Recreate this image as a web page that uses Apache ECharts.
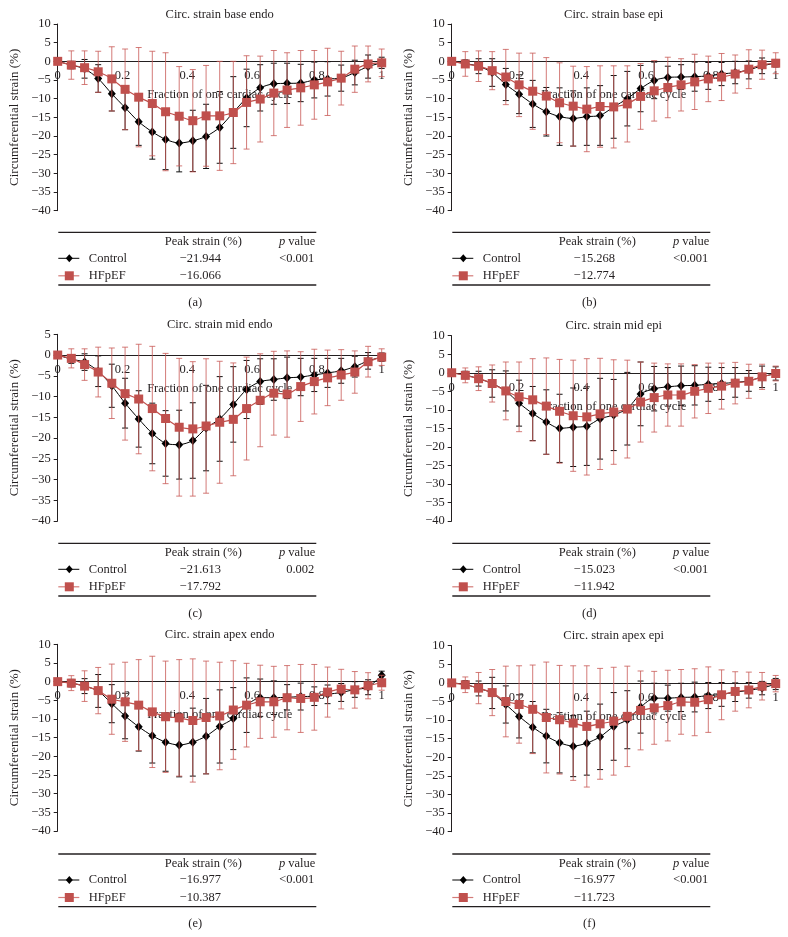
<!DOCTYPE html>
<html><head><meta charset="utf-8">
<script src="https://cdn.jsdelivr.net/npm/echarts@6/dist/echarts.min.js"></script>
<style>html,body{margin:0;padding:0;background:#fff}#c{width:788px;height:937px}</style>
</head><body><div id="c"></div>
<script>
// ---------------- DATA ----------------
const fractions = [0, 0.042, 0.083, 0.125, 0.167, 0.208, 0.25, 0.292, 0.333, 0.375, 0.417, 0.458, 0.5,
  0.542, 0.583, 0.625, 0.667, 0.708, 0.75, 0.792, 0.833, 0.875, 0.917, 0.958, 1];

const panelTitles = ['Circ. strain base endo', 'Circ. strain base epi', 'Circ. strain mid endo',
  'Circ. strain mid epi', 'Circ. strain apex endo', 'Circ. strain apex epi'];
const captions = ['(a)', '(b)', '(c)', '(d)', '(e)', '(f)'];
const yMaxTicks = [10, 10, 5, 10, 10, 10];
const yMinTick = -40;
const xTickStep = 0.2;
const yTickStep = 5;

// (a) base endo
const aControl   = [0, -1.0, -2.0, -4.6, -8.7, -12.4, -16.2, -18.9, -20.9, -21.9, -21.3, -20.1, -17.7, -13.7, -9.8, -7.1, -6.0, -5.9, -5.8, -5.0, -4.7, -4.5, -3.0, -1.4, -0.4];
const aControlSD = [0, 1.0, 2.5, 3.7, 4.6, 5.9, 6.3, 7.3, 8.1, 7.7, 8.2, 8.6, 9.6, 9.6, 7.7, 6.2, 5.5, 5.4, 5.0, 4.8, 4.6, 3.5, 3.3, 3.1, 1.5];
const aHF        = [0, -1.0, -1.7, -2.8, -4.7, -7.5, -9.6, -11.3, -13.5, -14.7, -15.9, -14.6, -14.6, -13.7, -11.0, -10.1, -8.5, -7.7, -7.1, -6.3, -5.5, -4.5, -2.1, -0.7, -0.4];
const aHFSD      = [0, 3.8, 4.5, 5.5, 8.6, 10.8, 13.3, 14.0, 15.8, 13.3, 13.7, 13.5, 14.6, 13.7, 12.5, 11.5, 11.4, 10.0, 10.0, 9.2, 9.0, 7.2, 6.2, 4.8, 3.7];
// (b) base epi
const bControl   = [0, -0.6, -1.3, -3.0, -6.2, -8.8, -11.4, -13.5, -14.8, -15.3, -14.8, -14.5, -12.2, -10.0, -7.3, -5.1, -4.3, -4.2, -4.1, -3.9, -3.4, -3.0, -2.3, -1.2, -0.5];
const bControlSD = [0, 1.0, 2.0, 3.7, 4.3, 5.2, 6.3, 6.5, 7.7, 7.4, 7.7, 8.0, 8.4, 7.3, 6.2, 4.9, 3.0, 3.3, 3.9, 3.6, 3.1, 3.0, 2.4, 2.1, 1.0];
const bHF        = [0, -0.7, -1.3, -2.5, -4.2, -6.3, -8.0, -9.3, -11.1, -12.0, -12.8, -12.1, -12.2, -11.4, -9.4, -7.9, -7.0, -6.3, -5.5, -4.7, -4.2, -3.4, -2.1, -0.9, -0.5];
const bHFSD      = [0, 3.3, 4.1, 5.1, 7.4, 8.5, 10.2, 10.3, 10.7, 10.7, 11.4, 10.9, 11.0, 10.2, 8.8, 8.1, 8.1, 7.0, 7.4, 6.1, 6.3, 5.1, 5.2, 3.9, 2.8];
// (c) mid endo
const cControl   = [0, -1.0, -1.7, -3.9, -7.4, -11.6, -15.4, -18.9, -21.3, -21.6, -20.6, -17.6, -15.4, -11.9, -8.3, -6.4, -5.9, -5.5, -5.3, -4.8, -4.3, -3.8, -2.8, -1.4, -0.5];
const cControlSD = [0, 1.0, 2.0, 3.7, 5.2, 6.0, 6.8, 7.3, 7.9, 8.3, 9.1, 10.3, 10.2, 9.1, 7.0, 5.5, 5.0, 5.0, 4.5, 4.0, 3.5, 3.0, 2.5, 2.0, 1.0];
const cHF        = [0, -0.8, -2.3, -4.1, -6.8, -9.3, -10.6, -12.9, -15.3, -17.4, -17.8, -17.1, -16.2, -15.5, -12.9, -10.9, -9.2, -9.4, -7.6, -6.4, -5.5, -4.8, -4.1, -1.6, -0.5];
const cHFSD      = [0, 2.3, 3.8, 6.0, 8.5, 11.2, 13.2, 15.0, 15.7, 16.6, 16.2, 16.2, 14.7, 13.6, 12.4, 11.2, 10.1, 10.4, 8.4, 7.8, 6.7, 6.1, 5.1, 3.7, 2.0];
// (d) mid epi
const dControl   = [0, -0.6, -1.6, -2.9, -4.9, -8.2, -11.0, -13.3, -15.0, -14.7, -14.4, -12.4, -11.4, -9.7, -5.7, -4.3, -3.8, -3.5, -3.4, -3.1, -2.9, -2.6, -2.2, -1.1, -0.2];
const dControlSD = [0, 1.0, 2.0, 3.7, 5.4, 6.2, 7.3, 8.7, 9.2, 10.6, 10.6, 10.9, 9.6, 9.8, 8.6, 6.0, 5.2, 5.3, 5.3, 4.6, 4.3, 4.0, 2.8, 2.9, 1.8];
const dHF        = [0, -0.7, -1.6, -2.9, -4.9, -6.5, -7.3, -9.0, -10.4, -11.6, -11.9, -11.1, -10.6, -9.8, -7.9, -6.7, -6.0, -6.0, -5.0, -4.2, -3.6, -2.8, -2.3, -1.1, -0.2];
const dHFSD      = [0, 2.0, 3.2, 5.0, 7.8, 9.4, 11.1, 13.0, 14.0, 15.0, 15.7, 15.0, 14.1, 13.2, 10.8, 9.3, 8.4, 8.4, 7.2, 6.8, 6.2, 5.6, 4.6, 3.4, 2.0];
// (e) apex endo
const eControl   = [0, -0.4, -1.2, -2.5, -5.9, -9.2, -12.1, -14.5, -16.2, -17.0, -16.2, -14.6, -12.0, -9.9, -6.3, -4.3, -4.3, -4.2, -4.0, -3.9, -3.4, -2.9, -2.1, -1.5, 1.7];
const eControlSD = [0, 1.0, 2.0, 4.4, 5.1, 6.1, 6.5, 7.3, 7.8, 8.5, 9.1, 10.1, 9.8, 8.3, 7.3, 5.0, 4.5, 3.4, 3.6, 2.5, 2.5, 2.4, 2.1, 2.0, 1.1];
const eHF        = [0, -0.4, -1.2, -2.4, -4.7, -5.4, -6.3, -8.1, -9.4, -9.7, -10.4, -9.6, -9.2, -7.6, -6.3, -5.4, -5.4, -4.3, -4.5, -4.2, -2.8, -2.0, -2.2, -1.1, -0.3];
const eHFSD      = [0, 2.0, 4.1, 6.2, 9.4, 10.6, 12.2, 14.9, 14.9, 15.6, 16.5, 15.1, 14.4, 13.2, 11.2, 9.8, 9.5, 8.6, 9.1, 8.8, 6.7, 5.3, 4.9, 3.5, 2.0];
// (f) apex epi
const fControl   = [0, -0.4, -1.5, -2.7, -5.8, -9.0, -11.9, -14.3, -16.1, -17.0, -16.2, -14.5, -11.7, -9.9, -6.5, -4.1, -4.1, -3.9, -3.8, -3.4, -3.1, -2.5, -2.0, -1.4, -0.3];
const fControlSD = [0, 1.0, 2.0, 4.2, 5.0, 5.8, 6.9, 7.2, 8.1, 8.2, 8.6, 8.8, 9.1, 7.8, 7.0, 4.0, 3.5, 3.8, 4.0, 3.5, 3.2, 2.5, 2.1, 1.8, 1.5];
const fHF        = [0, -0.5, -1.4, -2.6, -5.0, -5.8, -7.1, -9.3, -9.9, -10.8, -11.7, -11.0, -10.3, -9.0, -7.4, -6.7, -6.1, -5.1, -5.2, -4.5, -3.2, -2.3, -1.9, -0.9, -0.2];
const fHFSD      = [0, 2.1, 4.2, 6.2, 9.5, 10.4, 11.9, 14.9, 14.6, 15.4, 16.3, 14.9, 14.5, 13.5, 10.6, 9.8, 9.5, 8.7, 9.0, 8.8, 6.7, 5.3, 4.8, 3.7, 2.2];

// table values
const peakControl = [-21.944, -15.268, -21.613, -15.023, -16.977, -16.977];
const peakHF      = [-16.066, -12.774, -17.792, -11.942, -10.387, -11.723];
const pValues     = ['<0.001', '<0.001', '0.002', '<0.001', '<0.001', '<0.001'];

const controlSeries = [aControl, bControl, cControl, dControl, eControl, fControl];
const controlSDs    = [aControlSD, bControlSD, cControlSD, dControlSD, eControlSD, fControlSD];
const hfSeries      = [aHF, bHF, cHF, dHF, eHF, fHF];
const hfSDs         = [aHFSD, bHFSD, cHFSD, dHFSD, eHFSD, fHFSD];

// ---------------- LAYOUT / STYLE ----------------
const FONT = '"Liberation Serif", "DejaVu Serif", serif';
const INK = '#231f20';
const RED = '#c0504d';
const RED_BAR = 'rgba(200,90,86,0.8)';
const FS = 12.5;
const grids = [
  { left: 57.7,  top: 24,    width: 324, height: 186.7 },
  { left: 451.7, top: 24,    width: 324, height: 186.7 },
  { left: 57.7,  top: 334.3, width: 324, height: 186.7 },
  { left: 451.7, top: 335.7, width: 324, height: 185.3 },
  { left: 57.7,  top: 644.3, width: 324, height: 186.7 },
  { left: 451.7, top: 645.7, width: 324, height: 186 }
];
const tableTops = [232.3, 232.3, 543.3, 543.3, 854, 854];

const minus = v => (v < 0 ? '\u2212' + Math.abs(v) : String(v));

function errorBarRenderer(color) {
  return function (params, api) {
    const x = api.value(0), y = api.value(1), sd = api.value(2);
    if (!sd) return null;
    const hi = api.coord([x, y + sd]);
    const lo = api.coord([x, y - sd]);
    const w = 3;
    const st = { stroke: color, lineWidth: 1 };
    return {
      type: 'group',
      children: [
        { type: 'line', shape: { x1: hi[0], y1: hi[1], x2: lo[0], y2: lo[1] }, style: st },
        { type: 'line', shape: { x1: hi[0] - w, y1: hi[1], x2: hi[0] + w, y2: hi[1] }, style: st },
        { type: 'line', shape: { x1: lo[0] - w, y1: lo[1], x2: lo[0] + w, y2: lo[1] }, style: st }
      ]
    };
  };
}

const gridOpts = [], xAxes = [], yAxes = [], series = [], graphics = [];

function txt(text, x, y, align, extra) {
  return {
    type: 'text', silent: true, z: 100,
    style: Object.assign({
      text, x, y, fill: INK, font: FS + 'px ' + FONT,
      align: align, textAlign: align, verticalAlign: 'middle', textVerticalAlign: 'middle'
    }, extra || {})
  };
}
function hline(x1, x2, y, color, w) {
  return { type: 'line', silent: true, z: 100, shape: { x1, y1: y, x2, y2: y }, style: { stroke: color, lineWidth: w } };
}

for (let i = 0; i < 6; i++) {
  const g = grids[i];
  gridOpts.push(Object.assign({ outerBoundsMode: 'none', containLabel: false }, g));
  // x axis sits on the zero line: shift it up from the grid bottom by the zero position
  const zeroFromBottom = g.height * (0 - yMinTick) / (yMaxTicks[i] - yMinTick);
  xAxes.push({
    gridIndex: i, type: 'value', min: 0, max: 1, interval: xTickStep,
    position: 'bottom', offset: -zeroFromBottom,
    axisLine: { onZero: false, lineStyle: { color: INK, width: 1 } },
    axisTick: { show: false },
    splitLine: { show: false },
    axisLabel: { margin: 8, fontFamily: FONT, fontSize: FS, color: INK,
      formatter: v => String(+v.toFixed(1)) },
    name: 'Fraction of one cardiac cycle', nameLocation: 'middle', nameGap: 27,
    nameTextStyle: { fontFamily: FONT, fontSize: FS, color: INK }
  });
  yAxes.push({
    gridIndex: i, type: 'value', min: yMinTick, max: yMaxTicks[i], interval: yTickStep,
    axisLine: { show: true, onZero: false, lineStyle: { color: INK, width: 1 } },
    axisTick: { show: true, length: 4, lineStyle: { color: INK } },
    splitLine: { show: false },
    axisLabel: { margin: 7, fontFamily: FONT, fontSize: FS, color: INK, formatter: minus },
    name: 'Circumferential strain (%)', nameLocation: 'middle', nameGap: 37, nameRotate: 90,
    nameTextStyle: { fontFamily: FONT, fontSize: 13, color: INK }
  });

  const ctrl = controlSeries[i], ctrlSD = controlSDs[i], hf = hfSeries[i], hfSD = hfSDs[i];
  series.push({
    type: 'custom', xAxisIndex: i, yAxisIndex: i, z: 2, silent: true,
    renderItem: errorBarRenderer('#111'),
    data: fractions.map((x, k) => [x, ctrl[k], ctrlSD[k]])
  });
  series.push({
    type: 'line', xAxisIndex: i, yAxisIndex: i, z: 3, silent: true,
    data: fractions.map((x, k) => [x, ctrl[k]]),
    smooth: 0.25, symbol: 'diamond', symbolSize: [8, 9],
    lineStyle: { color: '#000', width: 1 }, itemStyle: { color: '#000' }
  });
  series.push({
    type: 'custom', xAxisIndex: i, yAxisIndex: i, z: 4, silent: true,
    renderItem: errorBarRenderer(RED_BAR),
    data: fractions.map((x, k) => [x, hf[k], hfSD[k]])
  });
  series.push({
    type: 'line', xAxisIndex: i, yAxisIndex: i, z: 5, silent: true,
    data: fractions.map((x, k) => [x, hf[k]]),
    smooth: 0.15, symbol: 'rect', symbolSize: 9,
    lineStyle: { color: RED, width: 1.2 }, itemStyle: { color: RED }
  });

  // title
  graphics.push(txt(panelTitles[i], g.left + g.width / 2, g.top - 9.5, 'center'));

  // table
  const L = g.left + 0.6, T = tableTops[i];
  graphics.push(hline(L, L + 258, T, INK, 1.3));
  graphics.push(txt('Peak strain (%)', L + 145, T + 9.6, 'center'));
  graphics.push(txt('p', L + 227, T + 9.6, 'right', { font: 'italic ' + FS + 'px ' + FONT }));
  graphics.push(txt('value', L + 230, T + 9.6, 'left'));
  const r1 = T + 26, r2 = T + 43.5;
  graphics.push({ type: 'line', silent: true, z: 100, shape: { x1: L, y1: r1, x2: L + 21, y2: r1 }, style: { stroke: '#000', lineWidth: 1 } });
  graphics.push({ type: 'polygon', silent: true, z: 101, shape: { points: [[L + 11, r1 - 4], [L + 14.5, r1], [L + 11, r1 + 4], [L + 7.5, r1]] }, style: { fill: '#000' } });
  graphics.push(txt('Control', L + 30.5, r1, 'left'));
  graphics.push(txt(minus(peakControl[i].toFixed(3)), L + 142, r1, 'center'));
  graphics.push(txt(pValues[i], L + 256, r1, 'right'));
  graphics.push({ type: 'line', silent: true, z: 100, shape: { x1: L, y1: r2, x2: L + 21, y2: r2 }, style: { stroke: RED_BAR, lineWidth: 1.2 } });
  graphics.push({ type: 'rect', silent: true, z: 101, shape: { x: L + 6.5, y: r2 - 4.5, width: 9, height: 9 }, style: { fill: RED } });
  graphics.push(txt('HFpEF', L + 30.5, r2, 'left'));
  graphics.push(txt(minus(peakHF[i].toFixed(3)), L + 142, r2, 'center'));
  graphics.push(hline(L, L + 258, T + 52.7, INK, 1.3));
  graphics.push(txt(captions[i], L + 137, T + 70, 'center'));
}

const chart = echarts.init(document.getElementById('c'), null, { renderer: 'canvas' });
chart.setOption({
  animation: false,
  backgroundColor: '#fff',
  textStyle: { fontFamily: FONT },
  grid: gridOpts,
  xAxis: xAxes,
  yAxis: yAxes,
  series: series,
  graphic: graphics
});
</script>
</body></html>
